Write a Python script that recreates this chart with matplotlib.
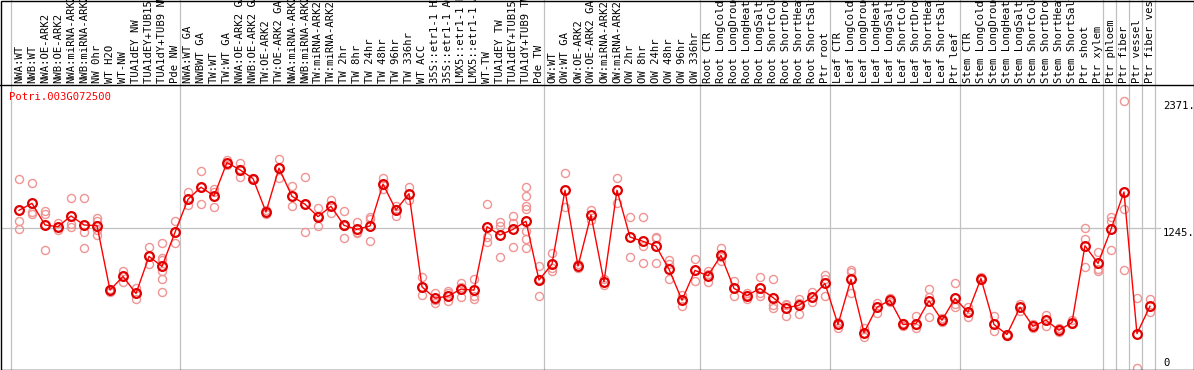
import matplotlib
matplotlib.use("Agg")
import matplotlib.pyplot as plt
import matplotlib.transforms as mtransforms
from matplotlib.patches import Rectangle

# sample labels, left to right
labels = [
    "NWA:WT", "NWB:WT", "NWA:OE-ARK2", "NWB:OE-ARK2", "NWA:miRNA-ARK2", "NWB:miRNA-ARK2",
    "NW 0hr", "WT H2O", "WT-NW", "TUA1dEY NW", "TUA1dEY+TUB15 NW", "TUA1dY+TUB9 NW", "Pde NW",
    "NWA:WT GA", "NWBWT GA", "TW:WT", "TW:WT GA", "NWA:OE-ARK2 GA", "NWB:OE-ARK2 GA",
    "TW:OE-ARK2", "TW:OE-ARK2 GA", "NWA:miRNA-ARK2", "NWB:miRNA-ARK2", "TW:miRNA-ARK2",
    "TW:miRNA-ARK2", "TW 2hr", "TW 8hr", "TW 24hr", "TW 48hr", "TW 96hr", "TW 336hr",
    "WT ACC", "35S::etr1-1 H2O", "35S::etr1-1 ACC", "LMX5::etr1-1 H2O", "LMX5::etr1-1 ACC",
    "WT-TW", "TUA1dEY TW", "TUA1dEY+TUB15 TW", "TUA1dY+TUB9 TW", "Pde TW",
    "OW:WT", "OW:WT GA", "OW:OE-ARK2", "OW:OE-ARK2 GA", "OW:miRNA-ARK2", "OW:miRNA-ARK2",
    "OW 2hr", "OW 8hr", "OW 24hr", "OW 48hr", "OW 96hr", "OW 336hr",
    "Root CTR", "Root LongCold", "Root LongDrought", "Root LongHeat", "Root LongSalt",
    "Root ShortCold", "Root ShortDrought", "Root ShortHeat", "Root ShortSalt", "Ptr root",
    "Leaf CTR", "Leaf LongCold", "Leaf LongDrought", "Leaf LongHeat", "Leaf LongSalt",
    "Leaf ShortCold", "Leaf ShortDrought", "Leaf ShortHeat", "Leaf ShortSalt", "Ptr leaf",
    "Stem CTR", "Stem LongCold", "Stem LongDrought", "Stem LongHeat", "Stem LongSalt",
    "Stem ShortCold", "Stem ShortDrought", "Stem ShortHeat", "Stem ShortSalt", "Ptr shoot",
    "Ptr xylem", "Ptr phloem", "Ptr fiber", "Ptr vessel", "Ptr fiber vessel",
]

# mean expression per sample
means = [
    1402, 1464, 1272, 1257, 1352, 1272, 1266, 694, 815, 664, 993, 904, 1207,
    1500, 1607, 1530, 1826, 1761, 1684, 1387, 1776, 1526, 1456, 1346, 1438,
    1269, 1233, 1263, 1634, 1405, 1550, 723, 622, 640, 703, 694, 1257, 1183,
    1233, 1305, 783, 925, 1580, 907, 1361, 768, 1580, 1165, 1127, 1085, 880,
    605, 869, 821, 1002, 709, 646, 709, 628, 536, 560, 631, 753, 389, 791,
    317, 542, 605, 389, 397, 599, 427, 620, 498, 797, 389, 300, 542, 373,
    427, 338, 406, 1088, 931, 1233, 1565, 308, 551,
]

# individual replicates per sample
replicates = [
    [1681, 1305, 1236], [1642, 1390, 1369], [1399, 1367, 1047], [1290, 1250, 1230],
    [1512, 1281, 1257], [1512, 1209, 1064], [1337, 1307, 1227, 1183], [705, 690, 673],
    [862, 820, 762], [714, 668, 611], [1073, 996, 925], [1112, 975, 960, 865, 789, 673],
    [1305, 1112], [1562, 1500, 1447], [1752, 1610, 1458], [1595, 1568, 1432],
    [1850, 1826, 1808], [1820, 1765, 1696], [1690, 1684, 1678], [1405, 1387, 1369],
    [1859, 1776, 1690], [1616, 1526, 1441], [1699, 1456, 1207], [1420, 1350, 1263],
    [1494, 1440, 1376], [1393, 1265, 1153], [1295, 1210, 1200], [1343, 1322, 1127],
    [1690, 1630, 1589], [1443, 1410, 1354], [1607, 1494], [806, 723, 655],
    [670, 605, 584], [682, 664, 593], [753, 723, 634], [797, 646, 616],
    [1458, 1168, 1123], [1298, 1266, 984], [1352, 1287, 1076],
    [1610, 1530, 1443, 1414, 1216, 1147, 1064], [907, 790, 646], [1020, 889, 865],
    [1731, 1429], [925, 889], [1405, 1316], [797, 738], [1690, 1470],
    [1343, 987], [1343, 1085, 934], [1165, 1155, 934], [960, 922, 791],
    [649, 605, 554], [967, 774], [862, 840, 762], [1067, 990, 951], [776, 709, 638],
    [670, 650, 616], [806, 664, 646], [797, 560, 531], [575, 560, 465],
    [611, 580, 486], [673, 631, 587], [824, 797, 646], [415, 392, 360],
    [872, 851, 664], [358, 317, 276], [581, 545, 495], [620, 605, 585],
    [400, 389, 376], [462, 380, 358], [703, 634, 454], [447, 427, 409],
    [753, 575, 540], [545, 498, 456], [806, 797, 788], [462, 389, 329],
    [309, 300, 291], [575, 542, 510], [390, 373, 356], [474, 427, 376],
    [358, 338, 318], [427, 406, 390], [1242, 1144, 895], [1029, 883, 865],
    [1346, 1307, 1047], [2371, 1411, 869], [620, 0], [611, 501],
]

# group separators fall after these sample indices
separators = [-1, 12, 40, 52, 62, 72, 83, 84, 85, 86, 87]
gene = "Potri.003G072500"
axis_values = [2371, 1245, 0]

W, H = 1194, 370
fig = plt.figure(figsize=(W / 100, H / 100), dpi=100)
ax = fig.add_axes([1 / W, 1 / H, 1192 / W, 284 / H])
ax.set_xlim(-1.385, 90.31)
ax.set_ylim(-6, 2514)
ax.set_axis_off()

font = "DejaVu Sans Mono"
rep_color = "#f09494"
xfig = mtransforms.blended_transform_factory(ax.transData, fig.transFigure)

# separators run through label area too
for s in separators:
    ax.plot([s + 0.42, s + 0.42], [0, 1], color="#c0c0c0", lw=0.9,
            transform=xfig, clip_on=False, zorder=0)
ax.plot([-1.385, 87.77], [1245, 1245], color="#c0c0c0", lw=0.9, zorder=0)

for i, reps in enumerate(replicates):
    ax.plot([i] * len(reps), reps, "o", ms=5.8, mfc="none", mec=rep_color, mew=1.0, zorder=2)

xs = list(range(len(means)))
ax.plot(xs, means, "-", color="#ff0000", lw=1.0, zorder=3)
ax.plot(xs, means, "o", ms=6.3, mfc="none", mec="#e00000", mew=1.6, zorder=4)

for i, lab in enumerate(labels):
    ax.text(i, (H - 83) / H, lab, rotation=90, ha="center", va="bottom",
            fontsize=7.6, family=font, transform=xfig)

fig.text(9 / W, (H - 92) / H, gene, color="#ff0000", fontsize=7.6, family=font,
         ha="left", va="top")

for v in axis_values:
    va = "bottom" if v == 0 else "top"
    ax.text(88.0, v, f"{v}." if v else "0", fontsize=7.6, family=font, ha="left", va=va)

# frame: header rule plus outer border
fig.add_artist(plt.Line2D([0, 1], [(H - 85) / H, (H - 85) / H], color="black", lw=1.0))
fig.add_artist(Rectangle((0.5 / W, 0.5 / H), (W - 1) / W, (H - 1) / H, fill=False,
                         edgecolor="black", lw=1.0, transform=fig.transFigure))

fig.savefig("out.png", dpi=100)
